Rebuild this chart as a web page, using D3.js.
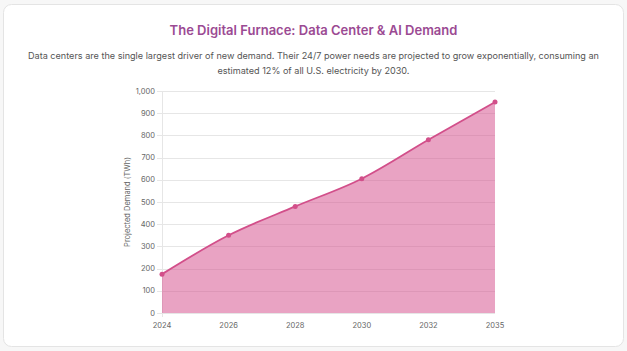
<!DOCTYPE html>
<html>
<head>
<meta charset="utf-8">
<script src="https://cdn.jsdelivr.net/npm/d3@7"></script>
<style>
  html, body { margin: 0; padding: 0; background: #f7f7f7; }
  svg { display: block; font-family: Inter, "Noto Sans", sans-serif; }
</style>
</head>
<body>
<svg id="chart" width="627" height="351"></svg>
<script>
// data
const years = ["2024", "2026", "2028", "2030", "2032", "2035"];
const demand = [175, 350, 480, 605, 780, 950];
const yTicks = [0, 100, 200, 300, 400, 500, 600, 700, 800, 900, 1000];

const title = "The Digital Furnace: Data Center & AI Demand";
const subtitle = [
  "Data centers are the single largest driver of new demand. Their 24/7 power needs are projected to grow exponentially, consuming an",
  "estimated 12% of all U.S. electricity by 2030."
];

const W = 627, H = 351;
const margin = {top: 91, right: 132, bottom: 38, left: 162};

const svg = d3.select("#chart");

// card
svg.append("rect")
  .attr("x", 3.5).attr("y", 4.5)
  .attr("width", W - 7).attr("height", H - 9)
  .attr("rx", 8)
  .attr("fill", "#fff")
  .attr("stroke", "#e4e4e4");

svg.append("text")
  .attr("x", W / 2).attr("y", 35)
  .attr("text-anchor", "middle")
  .attr("font-size", 13)
  .attr("font-weight", 600)
  .attr("fill", "#9b4a93")
  .text(title);

svg.append("g").selectAll("text")
  .data(subtitle)
  .join("text")
  .attr("x", W / 2)
  .attr("y", (d, i) => 58.5 + i * 15)
  .attr("text-anchor", "middle")
  .attr("font-size", 9.1)
  .attr("fill", "#555")
  .text(d => d);

const x = d3.scalePoint()
  .domain(years)
  .range([margin.left, W - margin.right]);

const y = d3.scaleLinear()
  .domain([0, 1000])
  .range([H - margin.bottom, margin.top]);

// grid
svg.append("g")
  .selectAll("line")
  .data(yTicks)
  .join("line")
  .attr("x1", margin.left - 5)
  .attr("x2", W - margin.right)
  .attr("y1", d => Math.round(y(d)) + 0.5)
  .attr("y2", d => Math.round(y(d)) + 0.5)
  .attr("stroke", "#e6e6e6");

svg.append("line")
  .attr("x1", margin.left + 0.5).attr("x2", margin.left + 0.5)
  .attr("y1", margin.top).attr("y2", H - margin.bottom + 4)
  .attr("stroke", "#e6e6e6");

const pts = years.map((yr, i) => ({yr, v: demand[i]}));

const area = d3.area()
  .x(d => x(d.yr))
  .y0(y(0))
  .y1(d => y(d.v))
  .curve(d3.curveMonotoneX);

const line = d3.line()
  .x(d => x(d.yr))
  .y(d => y(d.v))
  .curve(d3.curveMonotoneX);

svg.append("path")
  .datum(pts)
  .attr("d", area)
  .attr("fill", "rgba(212,72,136,0.5)");

svg.append("path")
  .datum(pts)
  .attr("d", line)
  .attr("fill", "none")
  .attr("stroke", "#d24f8a")
  .attr("stroke-width", 1.8);

svg.append("g")
  .selectAll("circle")
  .data(pts)
  .join("circle")
  .attr("cx", d => x(d.yr))
  .attr("cy", d => y(d.v))
  .attr("r", 2.5)
  .attr("fill", "#d24f8a");

// y tick labels
svg.append("g")
  .selectAll("text")
  .data(yTicks)
  .join("text")
  .attr("x", margin.left - 7)
  .attr("y", d => y(d))
  .attr("dy", "0.35em")
  .attr("text-anchor", "end")
  .attr("font-size", 7.5)
  .attr("fill", "#666")
  .text(d => d3.format(",")(d));

// x tick labels
svg.append("g")
  .selectAll("text")
  .data(years)
  .join("text")
  .attr("x", d => x(d))
  .attr("y", H - margin.bottom + 15)
  .attr("text-anchor", "middle")
  .attr("font-size", 7.5)
  .attr("fill", "#666")
  .text(d => d);

svg.append("text")
  .attr("transform", `translate(130,${(margin.top + H - margin.bottom) / 2}) rotate(-90)`)
  .attr("text-anchor", "middle")
  .attr("font-size", 7.5)
  .attr("fill", "#666")
  .text("Projected Demand (TWh)");
</script>
</body>
</html>
